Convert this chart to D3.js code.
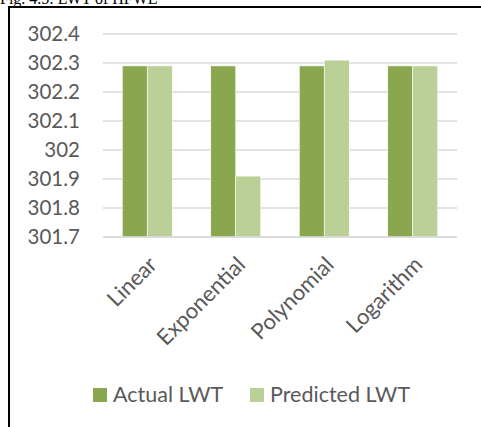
<!DOCTYPE html>
<html>
<head>
<meta charset="utf-8">
<script src="https://cdn.jsdelivr.net/npm/d3@7"></script>
<style>
body { margin: 0; background: #fff; }
svg { display: block; }
</style>
</head>
<body>
<svg></svg>
<script>
var categories = ['Linear', 'Exponential', 'Polynomial', 'Logarithm'];
var seriesNames = ['Actual LWT', 'Predicted LWT'];
var actual = [302.29, 302.29, 302.29, 302.29];
var predicted = [302.29, 301.91, 302.31, 302.29];
var yTicks = [301.7, 301.8, 301.9, 302, 302.1, 302.2, 302.3, 302.4];

var width = 481;
var height = 427;
var colors = ['#8aa64f', '#bad096'];
var font = 'Lato, "Open Sans", sans-serif';

var svg = d3.select('svg')
	.attr('width', width)
	.attr('height', height);

// caption above the chart frame, mostly cut off
svg.append('text')
	.attr('x', 0)
	.attr('y', 4)
	.attr('font-family', '"Liberation Serif", serif')
	.attr('font-size', 16)
	.attr('fill', '#000')
	.text('Fig. 4.5: LWT of HFWE');

// chart frame
svg.append('path')
	.attr('d', 'M9,' + height + 'V7H' + width)
	.attr('fill', 'none')
	.attr('stroke', '#000')
	.attr('stroke-width', 2);

var plot = { left: 103, right: 457, top: 34, bottom: 237 };

var x = d3.scaleBand()
	.domain(categories)
	.range([plot.left, plot.right])
	.paddingInner(0.435)
	.paddingOuter(0.2175);

var x1 = d3.scaleBand()
	.domain(seriesNames)
	.range([0, x.bandwidth()]);

var y = d3.scaleLinear()
	.domain([301.7, 302.4])
	.range([plot.bottom, plot.top]);

var yAxis = d3.axisLeft(y)
	.tickValues(yTicks)
	.tickFormat(d => String(+d.toFixed(1)))
	.tickSize(0)
	.tickPadding(23);

var gy = svg.append('g')
	.attr('transform', `translate(${plot.left},0)`)
	.call(yAxis);
gy.select('.domain').remove();
gy.selectAll('text')
	.attr('font-family', font)
	.attr('font-size', 20.5)
	.attr('fill', '#595959');

// gridlines
svg.append('g')
	.selectAll('line')
	.data(yTicks)
	.join('line')
	.attr('x1', plot.left)
	.attr('x2', plot.right)
	.attr('y1', d => y(d))
	.attr('y2', d => y(d))
	.attr('stroke', '#d9d9d9')
	.attr('stroke-width', 1.5);

var rows = categories.map((c, i) => ({ cat: c, values: [actual[i], predicted[i]] }));

svg.append('g')
	.selectAll('g')
	.data(rows)
	.join('g')
	.attr('transform', d => `translate(${x(d.cat)},0)`)
	.selectAll('rect')
	.data(d => d.values.map((v, j) => ({ name: seriesNames[j], value: v, idx: j })))
	.join('rect')
	.attr('x', d => x1(d.name))
	.attr('width', x1.bandwidth())
	.attr('y', d => y(d.value))
	.attr('height', d => y(301.7) - y(d.value))
	.attr('fill', d => colors[d.idx])
	.attr('stroke', '#fff')
	.attr('stroke-width', 0.6);

// baseline drawn above bars
svg.append('line')
	.attr('x1', plot.left)
	.attr('x2', plot.right)
	.attr('y1', y(301.7))
	.attr('y2', y(301.7))
	.attr('stroke', '#d9d9d9')
	.attr('stroke-width', 1.5);

// rotated category labels
svg.append('g')
	.selectAll('text')
	.data(categories)
	.join('text')
	.attr('transform', d => `translate(${x(d) + x.bandwidth() / 2 + 11},266) rotate(-45)`)
	.attr('text-anchor', 'end')
	.attr('font-family', font)
	.attr('font-size', 22)
	.attr('fill', '#595959')
	.text(d => d);

// legend
var legendX = [93, 250];
var legend = svg.append('g')
	.selectAll('g')
	.data(seriesNames)
	.join('g')
	.attr('transform', (d, i) => `translate(${legendX[i]},388)`);
legend.append('rect')
	.attr('width', 14)
	.attr('height', 14)
	.attr('fill', (d, i) => colors[i]);
legend.append('text')
	.attr('x', 20)
	.attr('y', 13.5)
	.attr('font-family', font)
	.attr('font-size', 21.5)
	.attr('fill', '#595959')
	.text(d => d);
</script>
</body>
</html>
